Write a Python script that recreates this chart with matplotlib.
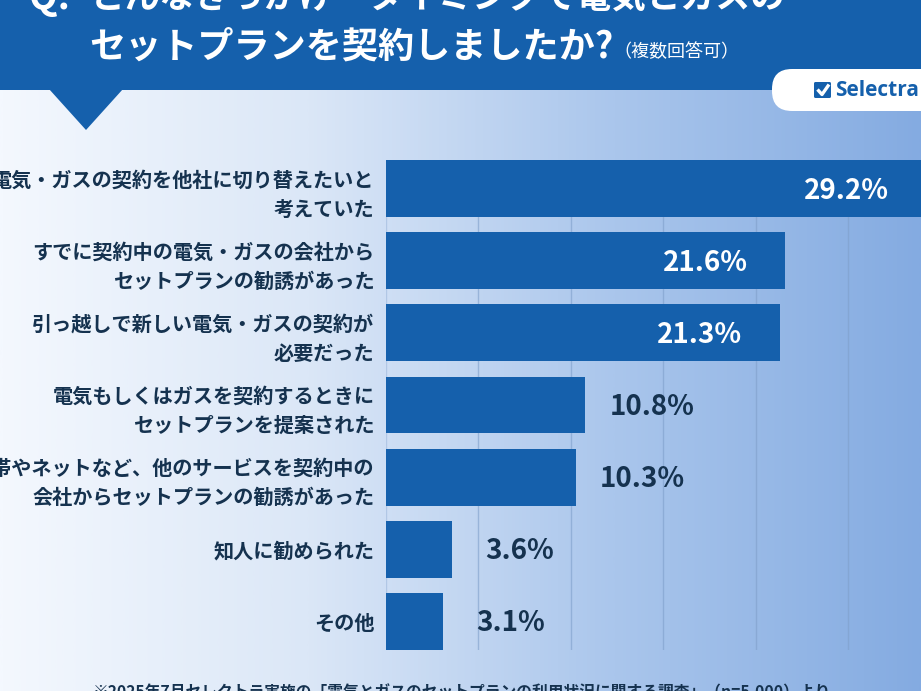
import matplotlib
matplotlib.use("Agg")
import matplotlib.pyplot as plt
import numpy as np
from matplotlib.patches import Rectangle, Polygon, FancyBboxPatch
from matplotlib.colors import LinearSegmentedColormap

plt.rcParams['font.family'] = ['Noto Sans CJK JP', 'DejaVu Sans']

# ---- data ----
categories = [
    "電気・ガスの契約を他社に切り替えたいと\n考えていた",
    "すでに契約中の電気・ガスの会社から\nセットプランの勧誘があった",
    "引っ越しで新しい電気・ガスの契約が\n必要だった",
    "電気もしくはガスを契約するときに\nセットプランを提案された",
    "携帯やネットなど、他のサービスを契約中の\n会社からセットプランの勧誘があった",
    "知人に勧められた",
    "その他",
]
values = [29.2, 21.6, 21.3, 10.8, 10.3, 3.6, 3.1]
value_labels = ["29.2%", "21.6%", "21.3%", "10.8%", "10.3%", "3.6%", "3.1%"]
grid_ticks = [5, 10, 15, 20, 25, 30]

title_q = "Q."
title_line1 = "どんなきっかけ・タイミングで電気とガスの"
title_line2 = "セットプランを契約しましたか?"
title_note = "（複数回答可）"
footnote = "※2025年7月セレクトラ実施の「電気とガスのセットプランの利用状況に関する調査」（n=5,000）より"
brand = "Selectra"

BLUE = "#1560ac"
NAVY = "#15324f"

W, H = 921, 691
fig = plt.figure(figsize=(W / 100, H / 100), dpi=100)

# ---- background / decoration axes (pixel coords) ----
bg = fig.add_axes([0, 0, 1, 1])
bg.set_xlim(0, W)
bg.set_ylim(H, 0)
bg.axis('off')
cmap = LinearSegmentedColormap.from_list("bg", ["#f4f8fe", "#dbe7f7", "#aac6ec", "#84abe1"], N=256)
grad = np.linspace(0, 1, 512).reshape(1, -1)
bg.imshow(grad, cmap=cmap, extent=[0, W, H, 0], aspect='auto', zorder=0)

bg.add_patch(Rectangle((0, 0), W, 90, color=BLUE, zorder=1, lw=0))
bg.add_patch(Polygon([[49, 89], [123, 89], [86, 130]], closed=True, color=BLUE, zorder=1, lw=0))

bg.add_patch(FancyBboxPatch((772, 69), 200, 42, boxstyle="round,pad=0,rounding_size=20",
                            facecolor="white", edgecolor="none", zorder=2))
bg.add_patch(FancyBboxPatch((814, 82), 17, 16, boxstyle="round,pad=0,rounding_size=1.5",
                            facecolor=BLUE, edgecolor="none", zorder=3))
bg.plot([817.5, 822, 829], [89.5, 94.5, 84.5], color="white", lw=2.4, zorder=4, solid_capstyle='butt')
bg.text(835, 90, brand, color=BLUE, fontsize=15, fontweight='bold', family=['Open Sans', 'DejaVu Sans'],
        ha='left', va='center', zorder=4)

bg.text(29, -3, title_q, color="white", fontsize=27, fontweight='bold', ha='left', va='center', zorder=3)
bg.text(91, -3, title_line1, color="white", fontsize=25, fontweight='bold', ha='left', va='center', zorder=3)
bg.text(89, 47, title_line2, color="white", fontsize=26, fontweight='bold', ha='left', va='center', zorder=3)
bg.text(613, 52, title_note, color="white", fontsize=13, ha='left', va='center', zorder=3)

bg.text(462, 684, footnote, color=NAVY, fontsize=11.3, fontweight='bold', ha='center', va='top', zorder=3)

# ---- main chart axes ----
px_per_unit = 18.5
x0_px = 385.5
top_px, bot_px = 160, 650
xmax = 30.5
ax = fig.add_axes([x0_px / W, (H - bot_px) / H, xmax * px_per_unit / W, (bot_px - top_px) / H])
ax.patch.set_alpha(0)
ax.set_xlim(0, xmax)
y = np.arange(len(categories))
ax.set_ylim(len(categories) - 1 + 0.4, -0.4)

ax.barh(y, values, height=0.79, color=BLUE, zorder=3)
for t in grid_ticks:
    ax.axvline(t, color="#7f9fcb", lw=1, alpha=0.6, zorder=1)
ax.axvline(0, color="#9fb8dc", lw=1, alpha=0.6, zorder=1)

for yi, v, lab in zip(y, values, value_labels):
    if v > 15:
        ax.text(v - 2.0, yi + 0.03, lab, color="white", fontsize=20, fontweight='bold',
                ha='right', va='center', zorder=4)
    else:
        ax.text(v + 1.3 + (0.5 if v < 5 else 0), yi + 0.03, lab, color=NAVY, fontsize=20, fontweight='bold',
                ha='left', va='center', zorder=4)

for sp in ax.spines.values():
    sp.set_visible(False)
ax.set_xticks([])
ax.set_yticks(y)
ax.set_yticklabels(categories, fontsize=14.5, fontweight='bold', color=NAVY, linespacing=1.45, ha='right')
ax.tick_params(axis='y', length=0, pad=8)

fig.savefig("out.png", dpi=100)
